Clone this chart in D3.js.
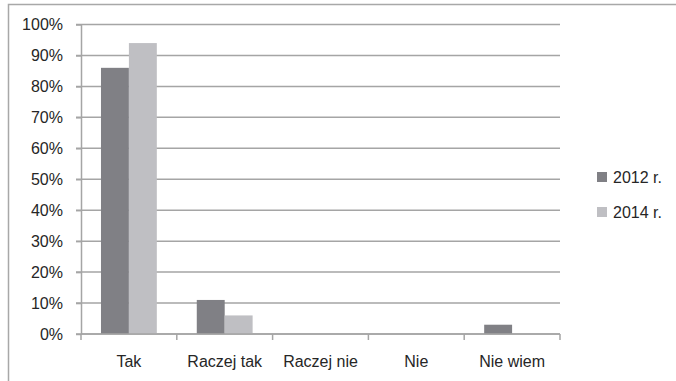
<!DOCTYPE html>
<html>
<head>
<meta charset="utf-8">
<script src="https://cdn.jsdelivr.net/npm/d3@7"></script>
<style>
  html, body { margin: 0; padding: 0; background: #fff; }
  svg { display: block; }
  .lbl { font-family: "Liberation Sans", Arial, sans-serif; font-size: 16px; fill: #262626; }
</style>
</head>
<body>
<svg id="chart" width="676" height="381"></svg>
<script>
// Chart data
const categories = ["Tak", "Raczej tak", "Raczej nie", "Nie", "Nie wiem"];
const seriesNames = ["2012 r.", "2014 r."];
const values2012 = [86, 11, 0, 0, 3];
const values2014 = [94, 6, 0, 0, 0];
const yTicks = [0, 10, 20, 30, 40, 50, 60, 70, 80, 90, 100];

const COLORS = ["#808085", "#bfbfc3"];
const GRID = "#a5a5a5";

const svg = d3.select("#chart");
// plot area edges
const plotLeft = 81, plotRight = 560, plotTop = 24.5, plotBottom = 334;

// outer chart frame (runs off the right/bottom edge)
svg.append("rect")
  .attr("x", 8.5).attr("y", 4.5)
  .attr("width", 700).attr("height", 400)
  .attr("fill", "none").attr("stroke", "#a8a8a8").attr("stroke-width", 1.5);

const y = d3.scaleLinear().domain([0, 100]).range([plotBottom, plotTop]);
const x0 = d3.scaleBand().domain(categories).range([plotLeft, plotRight])
  .paddingInner(0.417).paddingOuter(0.2085);
const x1 = d3.scaleBand().domain(seriesNames).range([0, x0.bandwidth()]);

// gridlines
svg.append("g").selectAll("line")
  .data(yTicks)
  .join("line")
  .attr("x1", plotLeft - 5).attr("x2", plotRight)
  .attr("y1", d => y(d)).attr("y2", d => y(d))
  .attr("stroke", GRID).attr("stroke-width", 1.5);

// y axis
const yAxis = svg.append("g")
  .attr("transform", "translate(" + plotLeft + ",0)")
  .call(d3.axisLeft(y).tickValues(yTicks).tickSize(5).tickSizeOuter(0).tickPadding(13)
    .tickFormat(d => d + "%"));
yAxis.select(".domain").attr("stroke", GRID).attr("stroke-width", 1.5);
yAxis.selectAll(".tick line").attr("stroke", GRID).attr("stroke-width", 1.5);
yAxis.selectAll("text").attr("class", "lbl").attr("fill", null);
yAxis.attr("font-size", null).attr("font-family", null);

// bars
const rows = categories.map((c, i) => ({ cat: c, vals: [values2012[i], values2014[i]] }));
svg.append("g").selectAll("g")
  .data(rows)
  .join("g")
  .attr("transform", d => "translate(" + x0(d.cat) + ",0)")
  .selectAll("rect")
  .data(d => d.vals.map((v, j) => ({ key: seriesNames[j], v: v, j: j })).filter(e => e.v > 0))
  .join("rect")
  .attr("x", d => x1(d.key))
  .attr("width", x1.bandwidth())
  .attr("y", d => y(d.v))
  .attr("height", d => plotBottom - y(d.v))
  .attr("fill", d => COLORS[d.j]);

// x axis line and boundary ticks
svg.append("line")
  .attr("x1", plotLeft).attr("x2", plotRight)
  .attr("y1", plotBottom).attr("y2", plotBottom)
  .attr("stroke", GRID).attr("stroke-width", 1.5);
const step = x0.step();
const bounds = d3.range(categories.length + 1).map(i => plotLeft + i * step);
svg.append("g").selectAll("line")
  .data(bounds)
  .join("line")
  .attr("x1", d => d).attr("x2", d => d)
  .attr("y1", plotBottom).attr("y2", plotBottom + 6)
  .attr("stroke", GRID).attr("stroke-width", 1.5);

// category labels
svg.append("g").selectAll("text")
  .data(categories)
  .join("text")
  .attr("class", "lbl")
  .attr("x", d => x0(d) + x0.bandwidth() / 2)
  .attr("y", 367)
  .attr("text-anchor", "middle")
  .text(d => d);

// legend
const legend = svg.append("g").selectAll("g")
  .data(seriesNames)
  .join("g")
  .attr("transform", (d, i) => "translate(597," + (172 + i * 35) + ")");
legend.append("rect")
  .attr("width", 10).attr("height", 10)
  .attr("fill", (d, i) => COLORS[i]);
legend.append("text")
  .attr("class", "lbl")
  .attr("x", 16).attr("y", 11)
  .text(d => d);
</script>
</body>
</html>
